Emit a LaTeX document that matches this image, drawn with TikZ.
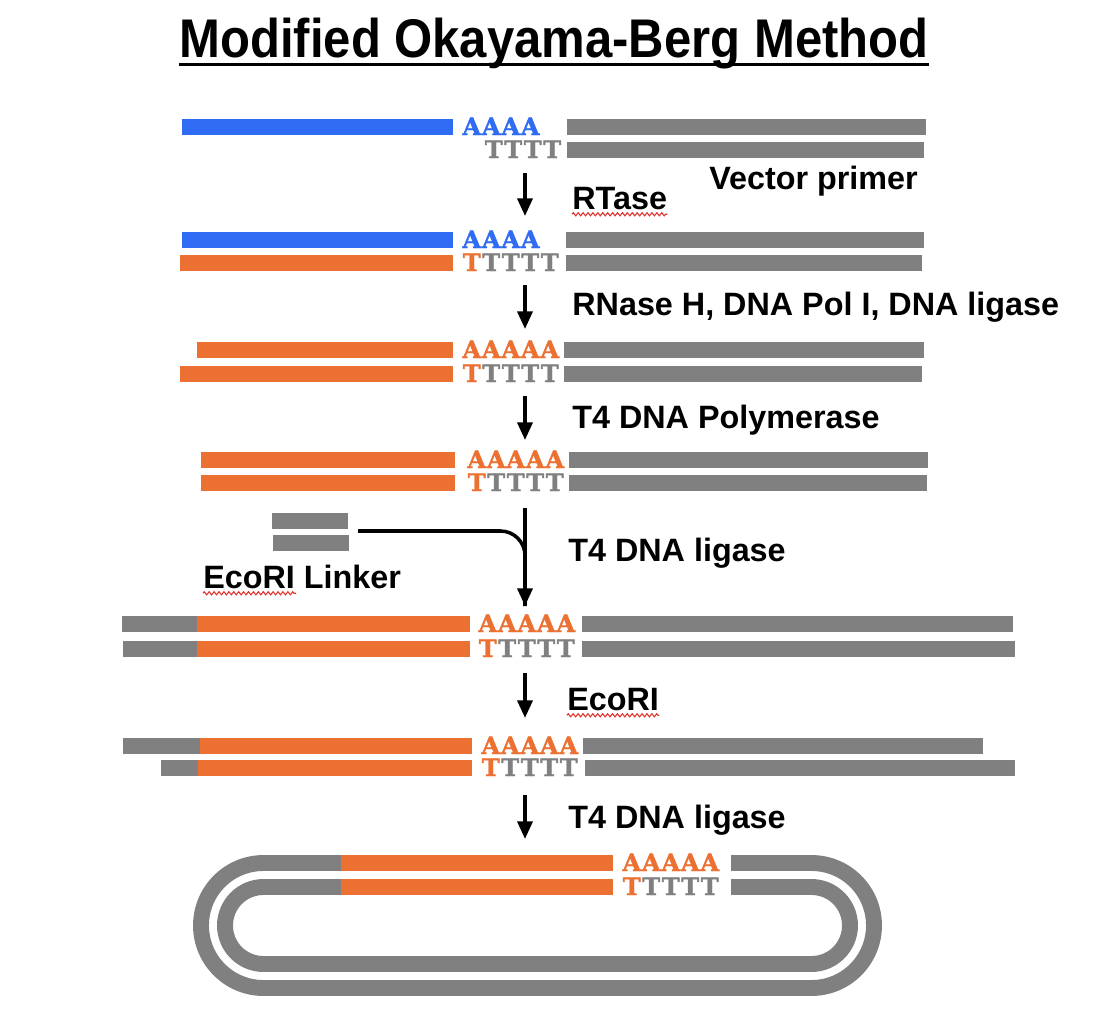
\documentclass[tikz,border=0pt]{standalone}
\usepackage{fontspec}
\setmainfont{Liberation Sans}
\newfontfamily\titlefont[FakeStretch=0.90]{Liberation Sans}
\newfontfamily\basefont[FakeBold=1.8]{DejaVu Serif Bold}
\usepackage{tikz}
\usetikzlibrary{arrows.meta, decorations.pathmorphing}
\usepackage{xcolor}
\definecolor{oBlue}{HTML}{2F6CF3}
\definecolor{oOrange}{HTML}{EC7031}
\definecolor{oGrey}{HTML}{808080}
\definecolor{oRed}{HTML}{E0302A}
\definecolor{oInk}{HTML}{000000}
% one strand bar, 16 units thick
\newcommand{\strand}[4]{\fill[#1] (#2,#4) rectangle (#3,#4+16);}
% a run of bases, one colour per letter
\newcommand{\bases}[5]{%
  \foreach \c [count=\i] in {#5}
    \node[nt, text=\c] (#1\i) at (#3+\i*19.5-9.75,#4) {#2};}

\begin{document}
\begin{tikzpicture}[x=0.02cm, y=-0.02cm,
  nt/.style={font=\basefont\fontsize{13.6}{15}\selectfont, inner sep=0pt, anchor=base},
  lbl/.style={font=\bfseries\fontsize{18.4}{21}\selectfont, text=oInk, inner sep=0pt, anchor=base west},
  flow/.style={oInk, line width=2pt, -{Triangle[length=10pt, width=8.5pt]}},
  squiggle/.style={oRed, line width=0.6pt, decorate, decoration={zigzag, amplitude=0.9pt, segment length=2.8pt}},
  ring/.style={oGrey, line width=9.07pt}]
  \useasboundingbox (0,0) rectangle (1106,1014);
  % title
  \node[font=\titlefont\bfseries\fontsize{31}{36}\selectfont, inner sep=0pt, anchor=base] (title) at (554,57) {Modified Okayama-Berg Method};
  \draw[line width=1.7pt] ([yshift=-4pt]title.base west) -- ([yshift=-4pt]title.base east);
  % row 1: mRNA on vector primer
  \strand{oBlue}{182}{453}{119}
  \strand{oGrey}{567}{926}{119}
  \strand{oGrey}{567}{924}{142}
  \bases{a1}{A}{462}{135}{oBlue,oBlue,oBlue,oBlue}
  \bases{t1}{T}{484}{158}{oGrey,oGrey,oGrey,oGrey}
  \node[lbl] (vp) at (709,189) {Vector primer};
  % row 2
  \strand{oBlue}{182}{453}{232}
  \strand{oOrange}{180}{453}{255}
  \strand{oGrey}{566}{924}{232}
  \strand{oGrey}{566}{922}{255}
  \bases{a2}{A}{462}{248}{oBlue,oBlue,oBlue,oBlue}
  \bases{t2}{T}{462}{271}{oOrange,oGrey,oGrey,oGrey,oGrey}
  % row 3
  \strand{oOrange}{197}{453}{342}
  \strand{oOrange}{180}{453}{366}
  \strand{oGrey}{564}{924}{342}
  \strand{oGrey}{564}{922}{366}
  \bases{a3}{A}{462}{358}{oOrange,oOrange,oOrange,oOrange,oOrange}
  \bases{t3}{T}{462}{382}{oOrange,oGrey,oGrey,oGrey,oGrey}
  % row 4
  \strand{oOrange}{201}{455}{452}
  \strand{oOrange}{201}{455}{475}
  \strand{oGrey}{569}{928}{452}
  \strand{oGrey}{569}{927}{475}
  \bases{a4}{A}{467}{468}{oOrange,oOrange,oOrange,oOrange,oOrange}
  \bases{t4}{T}{467}{491}{oOrange,oGrey,oGrey,oGrey,oGrey}
  % EcoRI linker
  \strand{oGrey}{272}{348}{513}
  \strand{oGrey}{273}{349}{535}
  \node[lbl] (eco) at (203,588) {EcoRI Linker};
  \draw[squiggle] ([yshift=-3pt]eco.base west) -- ++(93,0);
  % row 5
  \strand{oGrey}{122}{197}{616}
  \strand{oOrange}{197}{470}{616}
  \strand{oGrey}{123}{197}{641}
  \strand{oOrange}{197}{470}{641}
  \strand{oGrey}{582}{1013}{616}
  \strand{oGrey}{582}{1015}{641}
  \bases{a5}{A}{478}{632}{oOrange,oOrange,oOrange,oOrange,oOrange}
  \bases{t5}{T}{478}{657}{oOrange,oGrey,oGrey,oGrey,oGrey}
  % row 6
  \strand{oGrey}{123}{200}{738}
  \strand{oOrange}{200}{472}{738}
  \strand{oGrey}{161}{198}{760}
  \strand{oOrange}{198}{472}{760}
  \strand{oGrey}{583}{983}{738}
  \strand{oGrey}{585}{1015}{760}
  \bases{a6}{A}{481}{754}{oOrange,oOrange,oOrange,oOrange,oOrange}
  \bases{t6}{T}{481}{776}{oOrange,oGrey,oGrey,oGrey,oGrey}
  % row 7: closed plasmid
  \draw[ring] (341,863) -- (263.5,863) arc[start angle=270, end angle=90, radius=62.5]
    -- (811.5,988) arc[start angle=90, end angle=-90, radius=62.5] -- (731,863);
  \draw[ring] (341,887) -- (263.5,887) arc[start angle=270, end angle=90, radius=38.5]
    -- (811.5,964) arc[start angle=90, end angle=-90, radius=38.5] -- (731,887);
  \strand{oOrange}{341}{613}{855}
  \strand{oOrange}{341}{613}{879}
  \bases{a7}{A}{622}{871}{oOrange,oOrange,oOrange,oOrange,oOrange}
  \bases{t7}{T}{622}{895}{oOrange,oGrey,oGrey,oGrey,oGrey}
  % step arrows
  \coordinate (s1) at (525,173); \coordinate (e1) at (525,216);
  \coordinate (s2) at (525,285); \coordinate (e2) at (525,329);
  \coordinate (s3) at (525,396); \coordinate (e3) at (525,440);
  \coordinate (s4) at (525,508); \coordinate (e4) at (525,606);
  \coordinate (s5) at (525,673); \coordinate (e5) at (525,718);
  \coordinate (s6) at (525,795); \coordinate (e6) at (525,839);
  \coordinate (lk) at (358,531);
  \foreach \k in {1,...,6}
    \draw[flow] (s\k) -- (e\k);
  \draw[oInk, line width=2pt, rounded corners=14pt] (lk) -| (e4);
  % enzymes
  \node[lbl] (rt) at (572,209) {RTase};
  \draw[squiggle] ([yshift=-3pt]rt.base west) -- ([yshift=-3pt]rt.base east);
  \node[lbl] (rn) at (572,315) {RNase H, DNA Pol I, DNA ligase};
  \node[lbl] (pol) at (572,428) {T4 DNA Polymerase};
  \node[lbl] (lig1) at (568,561) {T4 DNA ligase};
  \node[lbl] (ecor) at (567,710) {EcoRI};
  \draw[squiggle] ([yshift=-3pt]ecor.base west) -- ([yshift=-3pt]ecor.base east);
  \node[lbl] (lig2) at (568,828) {T4 DNA ligase};
\end{tikzpicture}
\end{document}
